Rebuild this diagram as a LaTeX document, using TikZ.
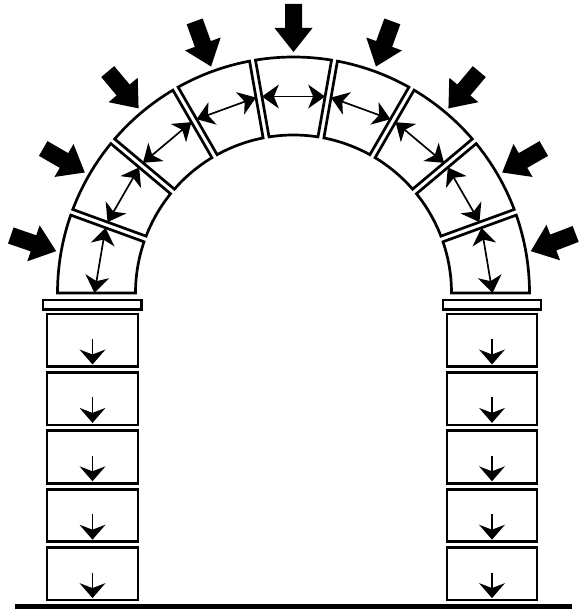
\documentclass[tikz,border=0pt]{standalone}
\begin{document}
\begin{tikzpicture}[x=1pt,y=1pt,
  stone/.style={draw=black, line width=2.7pt, line join=miter},
  thrust/.style={fill=black},
  shaft/.style={line width=1.7pt},
  % barbed arrow heads, tip at the pic origin, pointing along +x
  smallhead/.pic={\fill (0,0) -- (-17,12) -- (-12,0) -- (-17,-12) -- cycle;},
  loadhead/.pic={\fill (0,0) -- (-15,13) -- (-10,0) -- (-15,-13) -- cycle;},
]
\useasboundingbox (0,0) rectangle (584,609);

% arch: outer radius, inner radius, radius of the inner arrows, half joint width
\def\Ro{236}
\def\Ri{158}
\def\Rm{199}
\def\hg{3}

\begin{scope}[shift={(293.5,316)}]
  % nine voussoirs with thin joints between them
  \foreach \i in {0,...,8} {
    \pgfmathsetmacro\ta{20*\i}
    \pgfmathsetmacro\tb{20*\i+20}
    \pgfmathsetmacro\ao{(\i>0)*asin(\hg/\Ro)}
    \pgfmathsetmacro\ai{(\i>0)*asin(\hg/\Ri)}
    \pgfmathsetmacro\am{\ta+(\i>0)*asin(\hg/\Rm)}
    \pgfmathsetmacro\bo{(\i<8)*asin(\hg/\Ro)}
    \pgfmathsetmacro\bi{(\i<8)*asin(\hg/\Ri)}
    \pgfmathsetmacro\bm{\tb-(\i<8)*asin(\hg/\Rm)}
    \pgfmathsetmacro\dir{(\am+\bm)/2+90}
    \draw[stone] (\ta+\ai:\Ri) -- (\ta+\ao:\Ro)
      arc[start angle=\ta+\ao, end angle=\tb-\bo, radius=\Ro]
      -- (\tb-\bi:\Ri)
      arc[start angle=\tb-\bi, end angle=\ta+\ai, radius=\Ri] -- cycle;
    % compression between neighbouring stones
    \coordinate (sq\i a) at (\am:\Rm);
    \coordinate (sq\i b) at (\bm:\Rm);
    \draw[shaft, shorten <=11pt, shorten >=11pt] (sq\i a) -- (sq\i b);
    \pic[rotate=\dir] at (sq\i b) {smallhead};
    \pic[rotate=\dir+180] at (sq\i a) {smallhead};
  }
  % external loads pressing on each voussoir
  \foreach \i/\ph in {0/201,1/210,2/230,3/250,4/270,5/290,6/310,7/330,8/341} {
    \pgfmathsetmacro\tc{20*\i+10}
    \coordinate (ld\i) at (\tc:241);
    \fill[thrust, shift={(ld\i)}, rotate=\ph]
      (0,0) -- (-24,19) -- (-24,8.5) -- (-48,8.5) -- (-48,-8.5)
      -- (-24,-8.5) -- (-24,-19) -- cycle;
  }
\end{scope}

% impost slabs
\draw[stone] (43,299.5) rectangle (141.5,309);
\draw[stone] (443,299.5) rectangle (541,309);

% pier blocks with downward load arrows
\foreach \k in {0,...,4} {
  \pgfmathsetmacro\top{295-58.4*\k}
  \pgfmathsetmacro\bot{\top-52.5}
  \draw[stone] (47,\top) rectangle (138,\bot);
  \draw[stone] (447,\top) rectangle (537,\bot);
  \coordinate (pl\k a) at (92.5,\top-25);
  \coordinate (pl\k b) at (92.5,\bot+2);
  \coordinate (pr\k a) at (492,\top-25);
  \coordinate (pr\k b) at (492,\bot+2);
  \draw[shaft, shorten >=9pt] (pl\k a) -- (pl\k b);
  \draw[shaft, shorten >=9pt] (pr\k a) -- (pr\k b);
  \pic[rotate=-90] at (pl\k b) {loadhead};
  \pic[rotate=-90] at (pr\k b) {loadhead};
}

% ground
\fill (15,-2) rectangle (572,5);
\end{tikzpicture}
\end{document}
